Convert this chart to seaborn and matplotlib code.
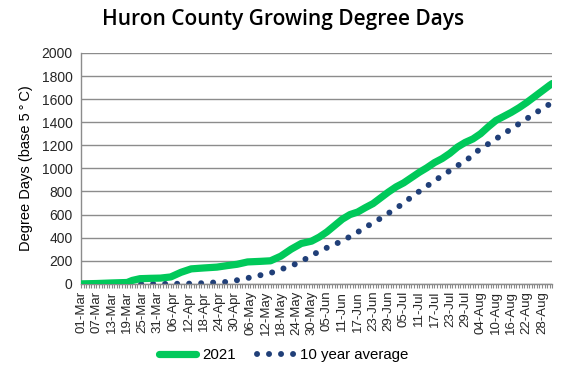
import matplotlib.pyplot as plt
import matplotlib.dates as mdates
from matplotlib.lines import Line2D
import pandas as pd
import seaborn as sns

sns.set_theme(style="white")
plt.rcParams["font.family"] = ["Liberation Sans", "DejaVu Sans"]

# 2021 season (day offset from 01-Mar, GDD base 5C)
days_2021 = [0, 6, 12, 18, 20, 23, 27, 31, 35, 39, 43, 48, 53, 57, 61, 65, 70,
             74, 78, 82, 86, 90, 93, 96, 99, 102, 105, 108, 111, 114, 117, 120,
             123, 126, 129, 132, 135, 138, 141, 144, 147, 150, 153, 156, 159,
             162, 165, 168, 171, 174, 177, 180, 183, 184]
gdd_2021 = [0, 3, 8, 12, 30, 45, 48, 50, 60, 100, 130, 138, 145, 158, 170, 190,
            195, 200, 240, 300, 350, 370, 405, 450, 505, 560, 600, 622, 660,
            695, 745, 795, 840, 875, 920, 965, 1005, 1050, 1085, 1130, 1185,
            1225, 1255, 1300, 1360, 1415, 1450, 1485, 1525, 1570, 1620, 1670,
            1720, 1735]

# 10 year average
days_avg = [0, 35, 45, 52, 57, 61, 66, 70, 75, 79, 84, 88, 92, 96, 101, 105,
            109, 113, 117, 121, 125, 128, 132, 136, 140, 144, 148, 152, 155,
            159, 163, 167, 171, 175, 179, 183, 184]
gdd_avg = [0, 0, 3, 12, 17, 32, 55, 75, 101, 133, 174, 220, 270, 313, 362, 409,
           461, 516, 568, 626, 684, 735, 800, 861, 922, 980, 1038, 1096, 1154,
           1212, 1270, 1328, 1386, 1444, 1502, 1557, 1570]

start = pd.Timestamp("2021-03-01")
df_2021 = pd.DataFrame({"date": start + pd.to_timedelta(days_2021, unit="D"),
                        "gdd": gdd_2021})
df_avg = pd.DataFrame({"date": start + pd.to_timedelta(days_avg, unit="D"),
                       "gdd": gdd_avg})

green = "#00C95A"
navy = "#203F78"
txt = "#262626"

fig = plt.figure(figsize=(5.67, 3.78), dpi=100)
ax = fig.add_axes([0.143, 0.249, 0.831, 0.611])

sns.lineplot(data=df_2021, x="date", y="gdd", ax=ax, color=green, lw=5.2,
             solid_capstyle="round", zorder=3)
sns.lineplot(data=df_avg, x="date", y="gdd", ax=ax, color=navy, lw=4.3,
             dashes=False, zorder=2)
ax.lines[1].set_dashes([0.01, 2.0])
ax.lines[1].set_dash_capstyle("round")

ax.set_ylim(0, 2000)
ax.set_yticks(range(0, 2001, 200))
ax.set_xlim(start, start + pd.Timedelta(days=184))
ax.set_xticks(pd.date_range("2021-03-01", "2021-08-28", freq="6D"))
ax.set_xticks(pd.date_range("2021-03-01", "2021-09-01", freq="D"), minor=True)
ax.xaxis.set_major_formatter(mdates.DateFormatter("%d-%b"))
ax.tick_params(axis="x", which="both", bottom=True, length=3, width=0.8,
               color="#888888", labelrotation=90, labelsize=9.5, pad=2,
               labelcolor=txt)
ax.tick_params(axis="y", labelsize=10, length=0, pad=6, labelcolor=txt)

ax.grid(axis="y", color="#8C8C8C", lw=1)
ax.set_axisbelow(True)
for s in ["top", "right"]:
    ax.spines[s].set_visible(False)
for s in ["left", "bottom"]:
    ax.spines[s].set_color("#8C8C8C")
    ax.spines[s].set_linewidth(1)

ax.set_xlabel("")
ax.set_ylabel("Degree Days (base 5\u2009\u00b0\u2009C)", fontsize=10.5,
              labelpad=6, color="black")
fig.suptitle("Huron County Growing Degree Days", x=0.5, y=0.975, color="black",
             fontsize=15, fontweight="semibold", family=["Open Sans", "DejaVu Sans"])

h1 = Line2D([], [], color=green, lw=5.2, solid_capstyle="round")
h2 = Line2D([], [], color=navy, lw=4.3, dashes=[0.01, 2.0], dash_capstyle="round")
fig.legend([h1, h2], ["2021", "10 year average"], loc="center",
           bbox_to_anchor=(0.5, 0.06), ncol=2, frameon=False, fontsize=10.8,
           handlelength=2.5, columnspacing=1.4, handletextpad=0.4,
           labelcolor="black")

fig.savefig("out.png", dpi=100)
